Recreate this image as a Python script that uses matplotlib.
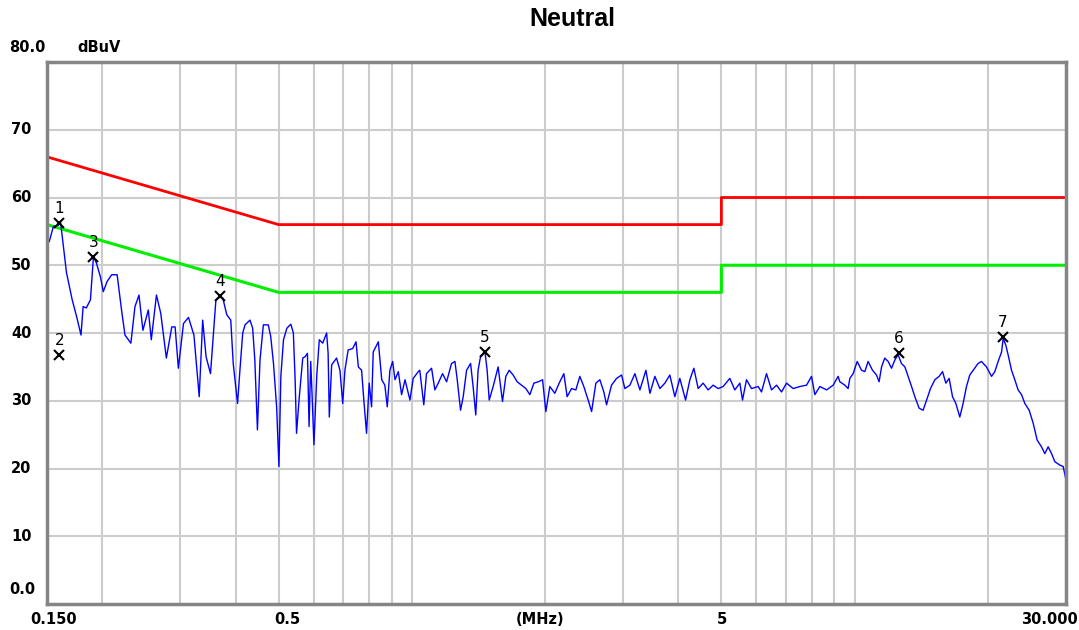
import numpy as np
import matplotlib
matplotlib.use("Agg")
import matplotlib.pyplot as plt
from matplotlib.ticker import NullLocator

# conducted emission scan, neutral line (MHz / dBuV)
seg1_freq = [0.1518, 0.155, 0.159, 0.161, 0.163, 0.166, 0.171, 0.175, 0.179, 0.181,
             0.184, 0.188, 0.191, 0.194, 0.198, 0.201, 0.205, 0.210, 0.216, 0.221,
             0.225, 0.232, 0.237, 0.242, 0.247, 0.254, 0.258, 0.265, 0.271, 0.279,
             0.287, 0.292, 0.297, 0.305, 0.313, 0.322, 0.331, 0.337, 0.343, 0.351,
             0.361, 0.369, 0.374, 0.382, 0.390, 0.395, 0.404, 0.409]
seg1_level = [53.5, 55.7, 55.9, 56.3, 53.3, 48.9, 44.9, 42.4, 39.7, 43.9,
              43.7, 44.9, 51.3, 50.3, 48.3, 46.1, 47.6, 48.6, 48.6, 43.4,
              39.7, 38.5, 43.9, 45.6, 40.4, 43.4, 39.0, 45.6, 42.9, 36.3,
              40.9, 40.9, 34.8, 41.4, 42.3, 39.7, 30.6, 41.9, 36.5, 34.0,
              44.9, 45.3, 45.2, 42.7, 41.9, 35.5, 29.6, 34.5]

seg2_freq = [0.415, 0.420, 0.431, 0.437, 0.442, 0.448, 0.454, 0.462, 0.474, 0.480,
             0.487, 0.495, 0.501, 0.506, 0.513, 0.522, 0.533, 0.540, 0.545, 0.549,
             0.557, 0.567, 0.574, 0.581, 0.586, 0.591, 0.595, 0.601, 0.610, 0.618,
             0.629, 0.642, 0.647, 0.651, 0.659, 0.676, 0.688, 0.698, 0.706, 0.718,
             0.735, 0.748, 0.757, 0.770, 0.779, 0.790, 0.801, 0.811, 0.818, 0.840,
             0.855, 0.869, 0.880, 0.892, 0.905, 0.916, 0.932, 0.948, 0.965, 0.990,
             1.007, 1.034]
seg2_level = [40.0, 41.2, 41.9, 40.7, 36.0, 25.7, 36.0, 41.2, 41.2, 39.5,
              35.5, 29.1, 20.3, 33.6, 39.0, 40.7, 41.3, 40.0, 33.1, 25.2,
              30.6, 36.3, 36.5, 37.0, 26.2, 35.8, 31.1, 23.5, 33.8, 39.0,
              38.5, 40.0, 37.0, 27.6, 35.3, 36.3, 34.5, 29.6, 34.5, 37.5,
              37.7, 38.7, 35.0, 34.5, 30.1, 25.2, 32.6, 29.1, 37.2, 38.7,
              33.1, 32.3, 29.1, 34.5, 35.8, 33.1, 34.3, 30.9, 33.1, 30.1,
              33.3, 34.3]

seg3_freq = [1.042, 1.064, 1.079, 1.108, 1.127, 1.147, 1.173, 1.198, 1.229, 1.251,
             1.266, 1.288, 1.306, 1.329, 1.357, 1.375, 1.394, 1.411, 1.429, 1.462,
             1.479, 1.495, 1.526, 1.566, 1.602, 1.630, 1.659, 1.693, 1.729, 1.769,
             1.809, 1.847, 1.886, 1.929, 1.973, 2.007, 2.049, 2.103, 2.151, 2.204,
             2.242, 2.294, 2.346, 2.395, 2.445, 2.501, 2.546, 2.603, 2.658, 2.713,
             2.752, 2.824, 2.899]
seg3_level = [34.5, 29.4, 34.0, 34.8, 31.6, 32.6, 34.0, 32.8, 35.5, 35.8,
              33.1, 28.6, 30.6, 34.5, 35.5, 32.1, 27.9, 34.5, 36.5, 37.3,
              34.5, 30.1, 32.1, 35.0, 29.9, 33.6, 34.5, 33.8, 32.8, 32.3,
              31.8, 30.9, 32.6, 32.8, 33.1, 28.4, 32.1, 31.1, 32.6, 34.0,
              30.6, 31.8, 31.6, 33.6, 32.1, 30.1, 28.4, 32.6, 33.1, 31.3,
              29.4, 32.3, 33.3]

seg4_freq = [2.975, 3.027, 3.107, 3.189, 3.273, 3.377, 3.448, 3.538, 3.631, 3.727,
             3.824, 3.925, 4.028, 4.150, 4.244, 4.333, 4.431, 4.547, 4.667, 4.790,
             4.916, 5.045, 5.224, 5.361, 5.503, 5.580, 5.697, 5.848, 6.052, 6.160,
             6.322, 6.489, 6.660, 6.836, 7.016, 7.261, 7.518, 7.784, 7.989, 8.128,
             8.342, 8.640, 8.941, 9.173]
seg4_level = [33.8, 31.8, 32.3, 34.0, 31.6, 34.5, 31.1, 33.6, 31.8, 32.6,
              33.8, 30.6, 33.3, 30.1, 33.1, 34.8, 31.8, 32.6, 31.6, 32.3,
              31.8, 32.1, 33.3, 31.6, 32.6, 30.1, 33.1, 31.8, 32.1, 31.3,
              34.0, 31.6, 32.3, 31.3, 32.6, 31.8, 32.1, 32.3, 33.6, 30.9,
              32.1, 31.6, 32.3, 33.6]

seg5_freq = [9.256, 9.500, 9.663, 9.750, 9.918, 10.13, 10.36, 10.54, 10.72, 10.97,
             11.20, 11.35, 11.50, 11.69, 11.90, 12.11, 12.32, 12.53, 12.75, 12.98,
             13.20, 13.44, 13.67, 13.98, 14.27, 14.53, 14.83, 15.17, 15.51, 15.79,
             16.06, 16.34, 16.63, 16.92, 17.27, 17.57, 17.88, 18.19, 18.51, 18.99,
             19.33, 19.84, 20.37, 20.72, 21.08, 21.46, 21.64, 21.94, 22.20, 22.60,
             22.99, 23.39, 23.81, 24.22, 24.77, 25.29, 25.82, 26.41, 26.87, 27.34,
             27.83, 28.31, 29.06, 29.56, 30.0]
seg5_level = [32.8, 32.3, 31.8, 33.3, 34.0, 35.8, 34.5, 34.3, 35.8, 34.5,
              33.8, 32.8, 35.0, 36.3, 35.8, 34.8, 36.0, 36.8, 35.5, 35.0,
              33.6, 32.1, 30.6, 28.9, 28.6, 30.1, 31.8, 33.1, 33.6, 34.3,
              32.6, 33.3, 30.6, 29.6, 27.6, 29.6, 32.1, 33.8, 34.5, 35.5,
              35.8, 35.0, 33.6, 34.3, 35.8, 37.2, 39.2, 38.2, 36.8, 34.5,
              33.1, 31.6, 30.9, 29.6, 28.6, 26.7, 24.2, 23.2, 22.2, 23.2,
              22.2, 21.0, 20.5, 20.3, 18.3]

# limit lines (QP / AV)
qp_freq = [0.15, 0.5, 5.0, 5.0, 30.0]
qp_level = [66, 56, 56, 60, 60]
av_freq = [0.15, 0.5, 5.0, 5.0, 30.0]
av_level = [56, 46, 46, 50, 50]

# marker readings
marker_id = ["1", "2", "3", "4", "5", "6", "7"]
marker_freq = [0.160, 0.160, 0.191, 0.369, 1.462, 12.60, 21.57]
marker_level = [56.3, 36.8, 51.2, 45.4, 37.2, 37.1, 39.4]

grid_freq = [0.2, 0.3, 0.4, 0.5, 0.6, 0.7, 0.8, 0.9, 1, 2, 3, 4, 5, 6, 7, 8, 9, 10, 20]
grid_level = [10, 20, 30, 40, 50, 60, 70]

freq = np.concatenate([seg1_freq, seg2_freq, seg3_freq, seg4_freq, seg5_freq])
level = np.concatenate([seg1_level, seg2_level, seg3_level, seg4_level, seg5_level])

W, H = 1079, 630
fig = plt.figure(figsize=(W / 100, H / 100), dpi=100)
ax = fig.add_axes([47 / W, 1 - 604 / H, (1066 - 47) / W, (604 - 62) / H])

ax.set_xscale("log")
ax.set_xlim(0.15, 30)
ax.set_ylim(0, 80)
ax.set_xticks(grid_freq)
ax.xaxis.set_minor_locator(NullLocator())
ax.set_yticks(grid_level)
ax.tick_params(length=0, labelbottom=False, labelleft=False)
ax.grid(True, color="#cccccc", lw=1.5)
ax.set_axisbelow(True)
for s in ax.spines.values():
    s.set_color("#858585")
    s.set_linewidth(2.5)

ax.plot(qp_freq, qp_level, color="#ff0000", lw=2)
ax.plot(av_freq, av_level, color="#00ee00", lw=2.2)
ax.plot(freq, level, color="#0000ff", lw=1.0)

ax.plot(marker_freq, marker_level, ls="none", marker="x", ms=7, mew=1.5, color="black")
for m, f, v in zip(marker_id, marker_freq, marker_level):
    ax.annotate(m, (f, v), xytext=(0, 5), textcoords="offset points",
                ha="center", va="bottom", fontsize=11, color="black")

def px_text(x, y, s, **kw):
    fig.text(x / W, 1 - y / H, s, **kw)

lab = dict(fontsize=10.5, fontweight="bold", family="DejaVu Sans", va="center")
px_text(9, 47, "80.0", ha="left", **lab)
px_text(77, 47, "dBuV", ha="left", **lab)
for v in grid_level:
    px_text(11, 604 - v * 6.775, str(v), ha="left", **lab)
px_text(9, 590, "0.0", ha="left", **lab)

px_text(54, 619, "0.150", ha="center", **lab)
px_text(287, 619, "0.5", ha="center", **lab)
px_text(540, 619, "(MHz)", ha="center", **lab)
px_text(722, 619, "5", ha="center", **lab)
px_text(1078, 619, "30.000", ha="right", **lab)

px_text(572, 19, "Neutral", ha="center", va="center", fontsize=18,
        fontweight="bold", family="Liberation Sans")

fig.savefig("out.png", dpi=100, facecolor="white")
